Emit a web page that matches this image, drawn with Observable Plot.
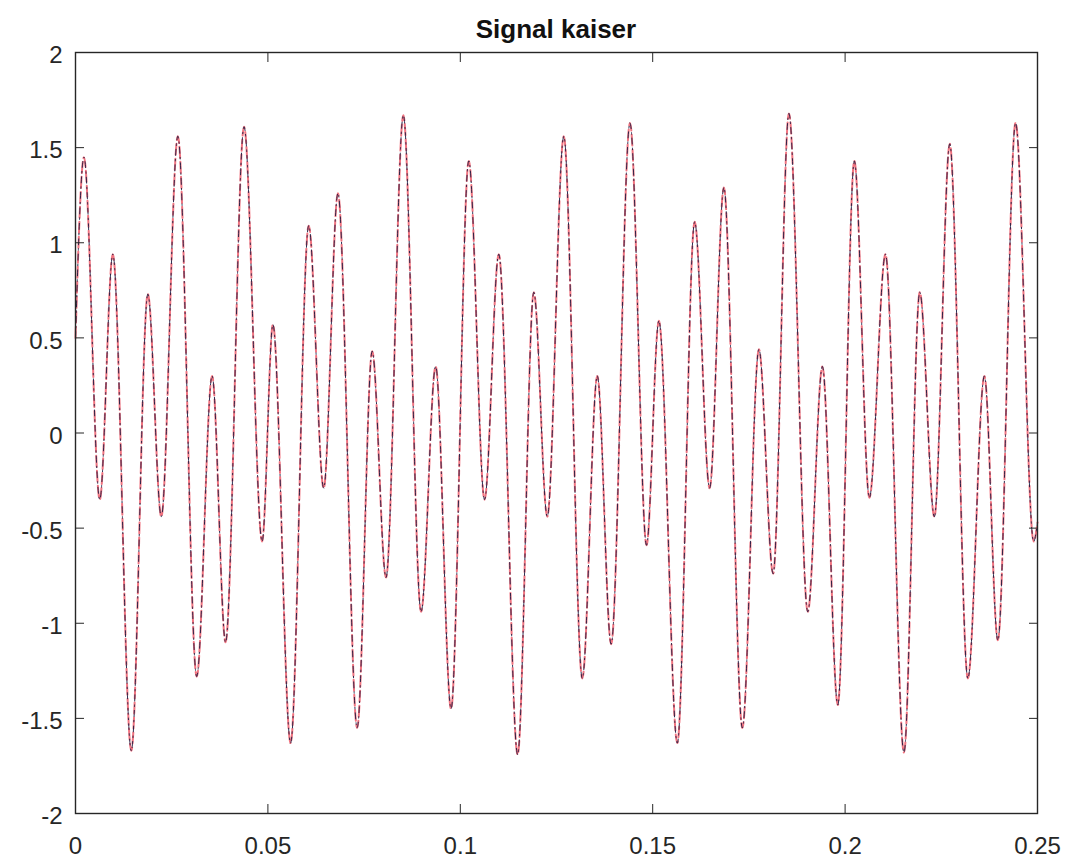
<!DOCTYPE html>
<html>
<head>
<meta charset="utf-8">
<script src="https://cdn.jsdelivr.net/npm/d3@7"></script>
<script src="https://cdn.jsdelivr.net/npm/@observablehq/plot@0.6"></script>
<style>
  html, body { margin: 0; padding: 0; background: #ffffff; }
  #title {
    width: 962px; margin-left: 75px; height: 38px;
    padding-top: 14px; box-sizing: border-box;
    font: bold 26px/24px "Liberation Sans", Arial, sans-serif;
    color: #111111; text-align: center;
  }
  #title span { position: relative; top: 3px; }
</style>
</head>
<body>
<div id="title"><span>Signal kaiser</span></div>
<div id="chart"></div>
<script>
// Sample times (s) of the signal's turning points, plus both ends
const time = [
  0, 0.0022, 0.0063, 0.0097, 0.0145, 0.0188, 0.0223, 0.0266, 0.0315, 0.0355,
  0.0390, 0.0438, 0.0485, 0.0513, 0.0559, 0.0606, 0.0645, 0.0682, 0.0732, 0.0771,
  0.0807, 0.0852, 0.0898, 0.0936, 0.0976, 0.1022, 0.1063, 0.1100, 0.1149, 0.1191,
  0.1226, 0.1269, 0.1317, 0.1356, 0.1392, 0.1441, 0.1484, 0.1516, 0.1564, 0.1609,
  0.1648, 0.1685, 0.1733, 0.1776, 0.1813, 0.1854, 0.1903, 0.1941, 0.1981, 0.2024,
  0.2063, 0.2105, 0.2153, 0.2194, 0.2232, 0.2272, 0.2319, 0.2362, 0.2397, 0.2443,
  0.2490, 0.2500
];

// Signal amplitude at those times
const amplitude = [
  0.50, 1.45, -0.35, 0.94, -1.67, 0.73, -0.44, 1.56, -1.28, 0.30,
  -1.10, 1.61, -0.57, 0.57, -1.63, 1.09, -0.29, 1.26, -1.55, 0.43,
  -0.76, 1.67, -0.94, 0.35, -1.45, 1.43, -0.35, 0.94, -1.69, 0.74,
  -0.44, 1.56, -1.29, 0.30, -1.11, 1.63, -0.59, 0.59, -1.63, 1.11,
  -0.29, 1.29, -1.55, 0.44, -0.74, 1.68, -0.94, 0.35, -1.43, 1.43,
  -0.34, 0.94, -1.68, 0.74, -0.44, 1.52, -1.29, 0.30, -1.09, 1.63,
  -0.57, -0.47
];

const xTicks = [0, 0.05, 0.1, 0.15, 0.2, 0.25];
const xTickLabels = ["0", "0.05", "0.1", "0.15", "0.2", "0.25"];
const yTicks = [-2, -1.5, -1, -0.5, 0, 0.5, 1, 1.5, 2];
const yTickLabels = ["-2", "-1.5", "-1", "-0.5", "0", "0.5", "1", "1.5", "2"];

const rows = time.map((t, i) => ({t, v: amplitude[i]}));
const xLabel = d => xTickLabels[xTicks.indexOf(d)];
const yLabel = d => yTickLabels[yTicks.indexOf(d)];
const blank = () => "";

const chart = Plot.plot({
  width: 1076,
  height: 825,
  marginLeft: 75,
  marginRight: 39,
  marginTop: 14,
  marginBottom: 50,
  style: {
    fontFamily: "'Liberation Sans', Arial, sans-serif",
    fontSize: "24px",
    color: "#262626",
    background: "#ffffff"
  },
  x: {domain: [0, 0.25]},
  y: {domain: [-2, 2]},
  marks: [
    // raw signal: red dashed
    Plot.line(rows, {x: "t", y: "v", curve: "monotone-x", stroke: "#ec4655",
      strokeWidth: 2, strokeDasharray: "11,4", strokeOpacity: 0.75}),
    // windowed signal: dark dash-dot on top
    Plot.line(rows, {x: "t", y: "v", curve: "monotone-x", stroke: "#1a1a40",
      strokeWidth: 0.9, strokeDasharray: "6,4,1.5,4"}),
    Plot.frame({stroke: "#262626", strokeWidth: 1.4}),
    // tick labels
    Plot.axisX(xTicks, {anchor: "bottom", label: null, tickSize: 0, tickPadding: 23, tickFormat: xLabel}),
    Plot.axisY(yTicks, {anchor: "left", label: null, tickSize: 0, tickPadding: 13, dy: 3, tickFormat: yLabel}),
    // inward tick marks on all four sides
    Plot.axisX(xTicks, {anchor: "bottom", label: null, tickSize: -9, tickFormat: blank}),
    Plot.axisX(xTicks, {anchor: "top", label: null, tickSize: -9, tickFormat: blank}),
    Plot.axisY(yTicks, {anchor: "left", label: null, tickSize: -9, tickFormat: blank}),
    Plot.axisY(yTicks, {anchor: "right", label: null, tickSize: -9, tickFormat: blank})
  ]
});

document.getElementById("chart").appendChild(chart);
</script>
</body>
</html>
